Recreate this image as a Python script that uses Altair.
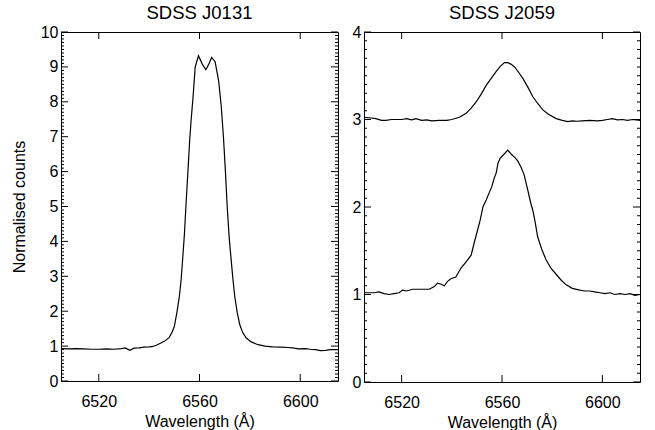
import altair as alt
import pandas as pd

# ---------------- data ----------------
j0131_wl = [6505, 6508, 6511, 6514, 6517, 6520, 6523, 6526, 6529, 6530.5, 6532.4, 6534, 6536,
            6538, 6540, 6541.5, 6543, 6544.7, 6546.3, 6548, 6549, 6550, 6551, 6552, 6552.7,
            6553.3, 6554, 6554.6, 6555.4, 6556.1, 6556.7, 6557.4, 6558.3, 6559.6, 6561.1,
            6562.5, 6563.5, 6564.8, 6566.2, 6567.6, 6568.6, 6569.5, 6570.3, 6571, 6571.8,
            6572.6, 6573.3, 6574, 6575, 6576, 6577.2, 6578.6, 6580.5, 6583.3, 6586, 6589,
            6592.6, 6595, 6597, 6599.3, 6602, 6604, 6606, 6608, 6610, 6612, 6615]
j0131_flux = [0.93, 0.92, 0.93, 0.92, 0.91, 0.91, 0.92, 0.91, 0.93, 0.95, 0.88, 0.94, 0.95,
              0.97, 0.98, 0.99, 1.03, 1.09, 1.15, 1.25, 1.38, 1.56, 1.95, 2.42, 2.9,
              3.48, 4.2, 5.0, 6.0, 6.9, 7.5, 8.1, 9.0, 9.32, 9.08,
              8.92, 9.05, 9.27, 9.15, 8.6, 7.9, 7.0, 6.0, 5.0, 4.1,
              3.45, 2.9, 2.42, 1.95, 1.61, 1.38, 1.23, 1.12, 1.04, 1.0, 0.98,
              0.97, 0.96, 0.95, 0.92, 0.93, 0.91, 0.9, 0.87, 0.88, 0.9, 0.9]

j2059_top_wl = [6505, 6507, 6509.7, 6512, 6513.7, 6516, 6518, 6520, 6522, 6524, 6525.7, 6528,
                6530, 6532, 6535, 6538, 6540, 6543, 6545.7, 6547.7, 6549.7, 6551.7, 6553.7,
                6555.7, 6557.7, 6559.4, 6561, 6562.3, 6563.7, 6565, 6566.6, 6568.3, 6570.3,
                6572.3, 6574.3, 6576.3, 6578.5, 6581.6, 6584, 6586.3, 6588, 6590, 6592, 6595,
                6598, 6600, 6602, 6604, 6606, 6608, 6610, 6612, 6615]
j2059_top_flux = [3.025, 3.02, 3.01, 2.99, 2.99, 3.0, 3.0, 3.0, 3.01, 2.995, 3.01, 2.99,
                  2.995, 2.985, 2.99, 2.99, 3.0, 3.025, 3.07, 3.13, 3.2, 3.29, 3.39,
                  3.47, 3.55, 3.61, 3.65, 3.65, 3.63, 3.6, 3.54, 3.47, 3.37,
                  3.26, 3.18, 3.11, 3.06, 3.01, 2.99, 2.975, 2.985, 2.98, 2.985, 2.99,
                  2.985, 2.99, 3.0, 3.01, 2.995, 3.0, 2.99, 3.0, 2.99]

j2059_low_wl = [6505, 6507, 6509, 6511, 6513, 6515, 6517, 6519, 6520.4, 6522, 6524.4, 6527,
                6529, 6531, 6533, 6534.3, 6535.5, 6537, 6538.3, 6539.6, 6541.6, 6543.6, 6545.6,
                6547.7, 6549, 6550.3, 6551.3, 6552.4, 6553.7, 6555, 6555.9, 6556.9, 6557.7,
                6558.4, 6559.3, 6560.7, 6562.3, 6563.8, 6565, 6566.2, 6567.5, 6568.8, 6569.8,
                6570.7, 6571.5, 6572.3, 6573.2, 6574.2, 6575.8, 6577.5, 6579.5, 6581.9, 6583.7,
                6585.6, 6588, 6591, 6593, 6595, 6597, 6599, 6601, 6603, 6605, 6607, 6609,
                6611, 6613, 6615]
j2059_low_flux = [1.02, 1.02, 1.02, 1.03, 1.01, 1.0, 1.01, 1.02, 1.05, 1.04, 1.06, 1.06,
                  1.06, 1.06, 1.09, 1.13, 1.12, 1.10, 1.15, 1.18, 1.2, 1.30, 1.37,
                  1.45, 1.6, 1.74, 1.85, 2.0, 2.08, 2.17, 2.23, 2.33, 2.39,
                  2.5, 2.56, 2.6, 2.65, 2.6, 2.57, 2.53, 2.46, 2.37, 2.25,
                  2.14, 2.04, 1.96, 1.83, 1.66, 1.52, 1.40, 1.30, 1.22, 1.16,
                  1.11, 1.07, 1.05, 1.04, 1.04, 1.03, 1.02, 1.01, 1.02, 1.0, 1.01, 1.0,
                  1.01, 0.99, 1.0]

x_domain = [6505, 6615]
x_major = [6520, 6560, 6600]
titles = ["SDSS J0131", "SDSS J2059"]
y_max = [10, 4]

FONT = "Liberation Sans"

df_left = pd.DataFrame({"wl": j0131_wl, "flux": j0131_flux, "series": "J0131"})
df_right = pd.concat([
    pd.DataFrame({"wl": j2059_top_wl, "flux": j2059_top_flux, "series": "top"}),
    pd.DataFrame({"wl": j2059_low_wl, "flux": j2059_low_flux, "series": "low"}),
])


def panel(df, ymax, title, ytitle, W, H):
    xs = alt.Scale(domain=x_domain, nice=False, zero=False)
    ys = alt.Scale(domain=[0, ymax], nice=False, zero=False)
    major = list(range(0, ymax + 1))
    xticks = pd.DataFrame({"wl": x_major})
    yticks = pd.DataFrame({"v": [round(i * 0.1, 1) for i in range(int(ymax * 10) + 1)]})

    ax_x = alt.Axis(values=x_major, format="d", ticks=False, domain=False, grid=False,
                    labelPadding=12, title="Wavelength (Å)", titlePadding=4)
    ax_y = alt.Axis(values=major, format="d", ticks=False, domain=False, grid=False,
                    labelOverlap=False, labelPadding=3, title=ytitle, titlePadding=13)

    line = alt.Chart(df).mark_line(color="black", strokeWidth=1.2, clip=True).encode(
        x=alt.X("wl:Q", scale=xs, axis=ax_x),
        y=alt.Y("flux:Q", scale=ys, axis=ax_y),
        detail="series:N",
    )
    rule = dict(color="black", strokeWidth=1)
    xt_top = alt.Chart(xticks).mark_rule(**rule).encode(
        x=alt.X("wl:Q", scale=xs, axis=ax_x), y=alt.value(0), y2=alt.value(7))
    xt_bot = alt.Chart(xticks).mark_rule(**rule).encode(
        x=alt.X("wl:Q", scale=xs, axis=ax_x), y=alt.value(H), y2=alt.value(H - 7))
    is_major = "datum.v % 1 === 0"
    is_minor = "datum.v % 1 !== 0"
    yl_maj = alt.Chart(yticks).transform_filter(is_major).mark_rule(**rule).encode(
        y=alt.Y("v:Q", scale=ys, axis=ax_y), x=alt.value(0), x2=alt.value(7))
    yl_min = alt.Chart(yticks).transform_filter(is_minor).mark_rule(**rule).encode(
        y=alt.Y("v:Q", scale=ys, axis=ax_y), x=alt.value(0), x2=alt.value(3))
    yr_maj = alt.Chart(yticks).transform_filter(is_major).mark_rule(**rule).encode(
        y=alt.Y("v:Q", scale=ys, axis=ax_y), x=alt.value(W), x2=alt.value(W - 7))
    yr_min = alt.Chart(yticks).transform_filter(is_minor).mark_rule(**rule).encode(
        y=alt.Y("v:Q", scale=ys, axis=ax_y), x=alt.value(W), x2=alt.value(W - 3))

    return alt.layer(line, xt_top, xt_bot, yl_maj, yl_min, yr_maj, yr_min).properties(
        width=W, height=H,
        title=alt.TitleParams(title, font=FONT, fontSize=18.5, fontWeight="normal",
                              color="black", frame="group", offset=2),
    )


left = panel(df_left, y_max[0], titles[0], "Normalised counts", 277, 349)
right = panel(df_right, y_max[1], titles[1], None, 276, 350)

chart = alt.hconcat(left, right, spacing=12).properties(
    padding={"left": 10, "top": 3, "right": 12, "bottom": 2},
    background="white",
).configure_view(
    stroke="black", strokeWidth=1,
).configure_axis(
    labelFont=FONT, labelFontSize=16, labelColor="black",
    titleFont=FONT, titleFontSize=16, titleFontWeight="normal", titleColor="black",
    labelOverlap=False,
)

chart.save("out.html", embed_options={"renderer": "svg", "actions": False})
